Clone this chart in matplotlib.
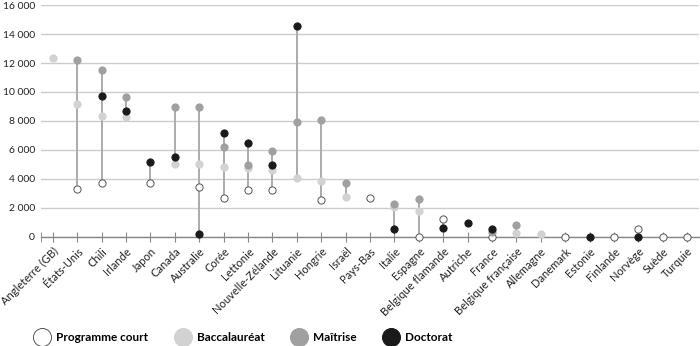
import numpy as np
import matplotlib
matplotlib.use("Agg")
import matplotlib.pyplot as plt
from matplotlib.lines import Line2D

plt.rcParams["font.family"] = ["Lato", "DejaVu Sans"]

nan = np.nan

# Pays (ordre du graphique)
PAYS = ["Angleterre (GB)", "États-Unis", "Chili", "Irlande", "Japon", "Canada",
        "Australie", "Corée", "Lettonie", "Nouvelle-Zélande", "Lituanie", "Hongrie",
        "Israël", "Pays-Bas", "Italie", "Espagne", "Belgique flamande", "Autriche",
        "France", "Belgique française", "Allemagne", "Danemark", "Estonie",
        "Finlande", "Norvège", "Suède", "Turquie"]

COURT = [nan, 3290, 3730, nan, 3730, nan, 3430, 2690, 3250, 3250, nan, 2530,
         nan, 2670, nan, 0, 1240, nan, 0, nan, nan, 0, nan, 0, 510, 0, 0]
BACC = [12320, 9190, 8310, 8270, nan, 5020, 5020, 4790, 4720, 4580, 4030, 3830,
        2740, nan, 2070, 1750, nan, nan, nan, 230, 160, nan, nan, nan, nan, nan, nan]
MAITRISE = [nan, 12180, 11510, 9650, nan, 8960, 8960, 6170, 4930, 5920, 7940, 8080,
            3710, nan, 2260, 2580, nan, nan, 300, 830, nan, nan, nan, nan, nan, nan, nan]
DOCTORAT = [nan, nan, 9690, 8680, 5160, 5520, 200, 7140, 6470, 4930, 14530, nan,
            nan, nan, 510, nan, 620, 970, 530, nan, nan, nan, 0, nan, 0, nan, nan]

Y_TICKS = [0, 2000, 4000, 6000, 8000, 10000, 12000, 14000, 16000]
Y_LABELS = ["0", "2 000", "4 000", "6 000", "8 000", "10 000", "12 000", "14 000", "16 000"]

SERIES = [
    ("Programme court", COURT, "white", "#555555"),
    ("Baccalauréat", BACC, "#d2d2d2", "#d2d2d2"),
    ("Maîtrise", MAITRISE, "#a0a0a0", "#a0a0a0"),
    ("Doctorat", DOCTORAT, "#1a1a1a", "#1a1a1a"),
]

fig = plt.figure(figsize=(7.0, 3.46), dpi=100)
ax = fig.add_axes([0.058, 0.316, 0.941, 0.669])

x = np.arange(len(PAYS))
allv = np.array([COURT, BACC, MAITRISE, DOCTORAT], dtype=float)
lo = np.nanmin(allv, axis=0)
hi = np.nanmax(allv, axis=0)
ax.vlines(x, lo, hi, color="#ababab", linewidth=1.4, zorder=2)

for name, vals, face, edge in SERIES:
    ax.plot(x, vals, linestyle="none", marker="o", markersize=5.2,
            markerfacecolor=face, markeredgecolor=edge, markeredgewidth=0.7,
            zorder=3, clip_on=False)

ax.set_xlim(-0.5, len(PAYS) - 0.5)
ax.set_ylim(0, 16000)
ax.set_yticks(Y_TICKS)
ax.set_yticklabels(Y_LABELS, fontsize=7.5, color="#222222")
ax.grid(axis="y", color="#cccccc", linewidth=1)
ax.set_axisbelow(True)

for s in ["top", "right", "left"]:
    ax.spines[s].set_visible(False)
ax.spines["bottom"].set_color("#888888")
ax.spines["bottom"].set_linewidth(1)

ax.set_xticks(x)
ax.set_xticks([-0.5], minor=True)
ax.set_xticklabels(PAYS, rotation=45, ha="right", rotation_mode="anchor",
                   fontsize=8, color="#222222")
ax.tick_params(axis="x", which="both", direction="inout", length=7,
               color="#888888", pad=3)
ax.tick_params(axis="y", length=0, pad=4)

handles = [Line2D([], [], linestyle="none", marker="o", markersize=13,
                  markerfacecolor=face, markeredgecolor=edge if face == "white" else face,
                  markeredgewidth=0.7)
           for name, vals, face, edge in SERIES]
fig.legend(handles, [s[0] for s in SERIES], loc="center left",
           bbox_to_anchor=(0.035, 0.025), ncol=4, frameon=False,
           prop={"weight": "bold", "size": 8.5}, handletextpad=0.6,
           columnspacing=2.3, handlelength=1.2)

fig.savefig("out.png", dpi=100)
